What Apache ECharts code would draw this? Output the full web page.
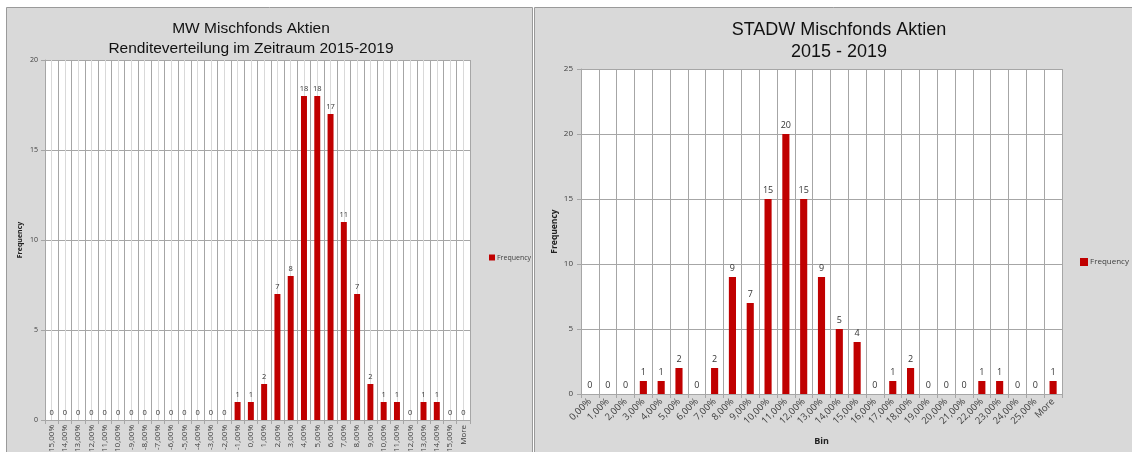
<!DOCTYPE html>
<html>
<head>
<meta charset="utf-8">
<script src="https://cdn.jsdelivr.net/npm/echarts@6/dist/echarts.min.js"></script>
<style>
  html, body { margin: 0; padding: 0; background: #ffffff; }
  #chart { width: 1132px; height: 452px; }
</style>
</head>
<body>
<div id="chart"></div>
<script>
// Histogram bins and counts, MW Mischfonds Aktien (2015-2019)
const mwBins = ['-15,00%','-14,00%','-13,00%','-12,00%','-11,00%','-10,00%','-9,00%','-8,00%',
  '-7,00%','-6,00%','-5,00%','-4,00%','-3,00%','-2,00%','-1,00%','0,00%','1,00%','2,00%',
  '3,00%','4,00%','5,00%','6,00%','7,00%','8,00%','9,00%','10,00%','11,00%','12,00%',
  '13,00%','14,00%','15,00%','More'];
const mwFrequency = [0,0,0,0,0,0,0,0,0,0,0,0,0,0,1,1,2,7,8,18,18,17,11,7,2,1,1,0,1,1,0,0];
const mwTicks = [0, 5, 10, 15, 20];

// Histogram bins and counts, STADW Mischfonds Aktien (2015-2019)
const stadwBins = ['0,00%','1,00%','2,00%','3,00%','4,00%','5,00%','6,00%','7,00%','8,00%',
  '9,00%','10,00%','11,00%','12,00%','13,00%','14,00%','15,00%','16,00%','17,00%','18,00%',
  '19,00%','20,00%','21,00%','22,00%','23,00%','24,00%','25,00%','More'];
const stadwFrequency = [0,0,0,1,1,2,0,2,9,7,15,20,15,9,5,4,0,1,2,0,0,0,1,1,0,0,1];
const stadwTicks = [0, 5, 10, 15, 20, 25];

const titles = [
  'MW Mischfonds Aktien\nRenditeverteilung im Zeitraum 2015-2019',
  'STADW Mischfonds Aktien\n2015 - 2019'
];
const seriesName = 'Frequency';
const binName = 'Bin';

const BAR = '#c00000';
const GRID_DARK = '#a6a6a6';
const GRID_LIGHT = '#d9d9d9';
const TXT = '#404040';
const LABEL_FONT = '"Open Sans", "DejaVu Sans", sans-serif';
const TITLE_FONT = '"Liberation Sans", Arial, sans-serif';

const chart = echarts.init(document.getElementById('chart'), null, { renderer: 'canvas' });

const option = {
  animation: false,
  backgroundColor: '#ffffff',
  graphic: [
    { type: 'rect', z: -10, shape: { x: 6.5, y: 7.5, width: 526, height: 460 },
      style: { fill: '#d9d9d9', stroke: '#9a9a9a', lineWidth: 1 } },
    { type: 'rect', z: -10, shape: { x: 534.5, y: 7.5, width: 620, height: 460 },
      style: { fill: '#d9d9d9', stroke: '#9a9a9a', lineWidth: 1 } }
  ],
  title: [
    { text: titles[0], left: 246, top: 14, textAlign: 'center',
      textStyle: { fontFamily: TITLE_FONT, fontWeight: 'normal', fontSize: 15.5, lineHeight: 20, color: '#111' } },
    { text: titles[1], left: 834, top: 14, textAlign: 'center',
      textStyle: { fontFamily: TITLE_FONT, fontWeight: 'normal', fontSize: 18, lineHeight: 22, color: '#111' } }
  ],
  legend: [
    { data: [seriesName], left: 484, top: 249, orient: 'vertical', icon: 'rect',
      itemWidth: 6, itemHeight: 6, itemGap: 4, selectedMode: false,
      textStyle: { fontFamily: LABEL_FONT, fontSize: 7, color: TXT, padding: [0, 0, 0, -3] } },
    { data: [seriesName], left: 1075, top: 253, orient: 'vertical', icon: 'rect',
      itemWidth: 8, itemHeight: 8, itemGap: 4, selectedMode: false,
      textStyle: { fontFamily: LABEL_FONT, fontSize: 8, color: TXT, padding: [0, 0, 0, -3] } }
  ],
  grid: [
    { left: 45, top: 60, width: 425, height: 360, outerBoundsMode: 'none', containLabel: false,
      backgroundColor: '#ffffff', show: true, borderWidth: 0 },
    { left: 581, top: 69, width: 481, height: 325, outerBoundsMode: 'none', containLabel: false,
      backgroundColor: '#ffffff', show: true, borderWidth: 0 }
  ],
  xAxis: [
    {
      type: 'category', gridIndex: 0, data: mwBins, boundaryGap: true,
      axisLine: { lineStyle: { color: GRID_DARK } },
      axisTick: { show: true, interval: 0, length: 4, lineStyle: { color: GRID_DARK } },
      axisLabel: { interval: 0, rotate: 90, fontSize: 8, color: TXT, fontFamily: LABEL_FONT, margin: 5 },
      splitLine: { show: false }
    },
    {
      // per-bin boundary and mid-bin guide lines for the first histogram
      type: 'value', gridIndex: 0, min: 0, max: mwBins.length * 2, interval: 1, position: 'top',
      axisLine: { show: false }, axisTick: { show: false }, axisLabel: { show: false },
      splitLine: { show: true, lineStyle: { color: [GRID_DARK, GRID_LIGHT], width: 1 } }
    },
    {
      type: 'category', gridIndex: 1, data: stadwBins, boundaryGap: true,
      name: binName, nameLocation: 'middle', nameGap: 43,
      nameTextStyle: { fontFamily: LABEL_FONT, fontWeight: 'bold', fontSize: 9, color: '#222' },
      axisLine: { lineStyle: { color: GRID_DARK } },
      axisTick: { show: true, interval: 0, length: 4, lineStyle: { color: GRID_DARK } },
      axisLabel: { interval: 0, rotate: 45, fontSize: 9.5, color: TXT, fontFamily: LABEL_FONT, margin: 6 },
      splitLine: { show: true, interval: 0, lineStyle: { color: GRID_DARK, width: 1 } }
    }
  ],
  yAxis: [
    {
      type: 'value', gridIndex: 0, min: mwTicks[0], max: mwTicks[mwTicks.length - 1], interval: 5,
      name: seriesName, nameLocation: 'middle', nameGap: 22,
      nameTextStyle: { fontFamily: LABEL_FONT, fontWeight: 'bold', fontSize: 7, color: '#222' },
      axisLine: { show: true, lineStyle: { color: GRID_DARK } },
      axisTick: { show: true, length: 4, lineStyle: { color: GRID_DARK } },
      axisLabel: { fontSize: 7, color: TXT, fontFamily: LABEL_FONT, margin: 7 },
      splitLine: { show: true, lineStyle: { color: GRID_DARK, width: 1 } }
    },
    {
      type: 'value', gridIndex: 1, min: stadwTicks[0], max: stadwTicks[stadwTicks.length - 1], interval: 5,
      name: seriesName, nameLocation: 'middle', nameGap: 22,
      nameTextStyle: { fontFamily: LABEL_FONT, fontWeight: 'bold', fontSize: 8.5, color: '#222' },
      axisLine: { show: true, lineStyle: { color: GRID_DARK } },
      axisTick: { show: true, length: 4, lineStyle: { color: GRID_DARK } },
      axisLabel: { fontSize: 8, color: TXT, fontFamily: LABEL_FONT, margin: 8 },
      splitLine: { show: true, lineStyle: { color: GRID_DARK, width: 1 } }
    }
  ],
  series: [
    {
      name: seriesName, type: 'bar', xAxisIndex: 0, yAxisIndex: 0, data: mwFrequency,
      barWidth: '45%', itemStyle: { color: BAR },
      label: { show: true, position: 'top', distance: 3, fontSize: 7.5, color: '#333', fontFamily: LABEL_FONT }
    },
    {
      name: seriesName, type: 'bar', xAxisIndex: 2, yAxisIndex: 1, data: stadwFrequency,
      barWidth: '40%', itemStyle: { color: BAR },
      label: { show: true, position: 'top', distance: 4, fontSize: 9, color: '#333', fontFamily: LABEL_FONT }
    }
  ]
};

chart.setOption(option);
</script>
</body>
</html>
